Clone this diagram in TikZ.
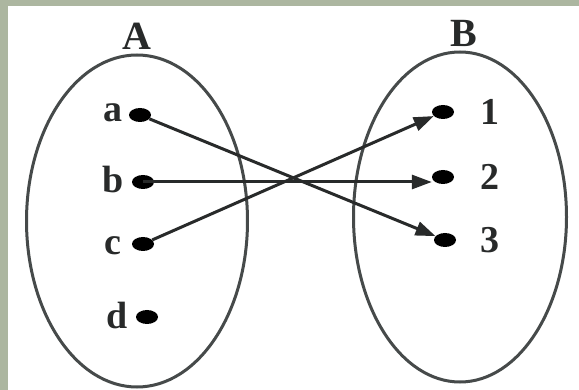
\documentclass[tikz,border=0pt]{standalone}
\usepackage{fontspec}
\setmainfont{Liberation Serif}
\usetikzlibrary{shapes.geometric,arrows.meta}
\definecolor{bordercol}{RGB}{172,182,160}
\definecolor{inkcol}{RGB}{40,42,42}
\definecolor{linecol}{RGB}{70,74,74}
\tikzset{
  setring/.style={draw=linecol,line width=3pt,ellipse,inner sep=0pt},
  pt/.style={ellipse,fill=black,minimum width=22pt,minimum height=14pt,inner sep=0pt},
  lbl/.style={text=inkcol,font=\bfseries\fontsize{38}{38}\selectfont,inner sep=0pt},
  setlbl/.style={text=inkcol,font=\bfseries\fontsize{40}{40}\selectfont,inner sep=0pt},
  arr/.style={draw=inkcol,line width=3pt,-{Triangle[length=20pt,width=14pt]}}
}
\begin{document}
\begin{tikzpicture}[x=1pt,y=-1pt]
\useasboundingbox (0,0) rectangle (579,390);
\fill[bordercol] (0,0) rectangle (579,390);
\fill[white] (8,6) rectangle (579,390);
\node[setring,minimum width=221pt,minimum height=332pt] (A) at (137,221) {};
\node[setring,minimum width=213pt,minimum height=330pt] (B) at (460,217) {};
\node[setlbl] (LA) at (137,36) {A};
\node[setlbl] (LB) at (464,33) {B};
\node[pt] (a) at (140,115) {};
\node[pt] (b) at (143,182) {};
\node[pt] (c) at (143,244) {};
\node[pt] (d) at (147,317) {};
\node[pt] (n1) at (443,112) {};
\node[pt] (n2) at (443,177) {};
\node[pt] (n3) at (445,240) {};
\node[lbl] (la) at (113,113) {a};
\node[lbl] (lb) at (113,180) {b};
\node[lbl] (lc) at (113,246) {c};
\node[lbl] (ld) at (117,316) {d};
\node[lbl] (l1) at (490,112) {1};
\node[lbl] (l2) at (490,177) {2};
\node[lbl] (l3) at (490,240) {3};
\draw[arr] (a) -- (n3);
\draw[arr] (b.center) -- (n2.west |- b.center);
\draw[arr] (c) -- (n1);
\end{tikzpicture}
\end{document}
